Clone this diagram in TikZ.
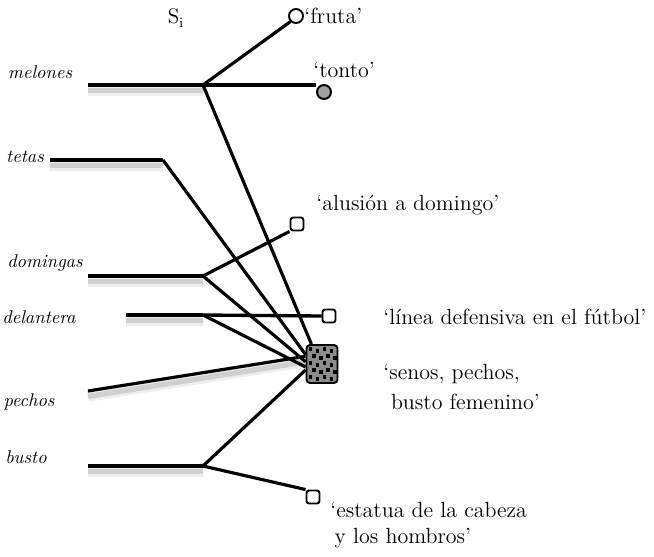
\documentclass[tikz,border=0pt]{standalone}
\usetikzlibrary{positioning}
\definecolor{shadowgray}{gray}{0.55}
\definecolor{dotgray}{gray}{0.55}

% bar with a soft shadow under it
\newcommand{\shadowbar}[3]{%
  \draw[shadowgray, line width=6pt, opacity=0.15] ([yshift=-0.11cm]#1) -- ([yshift=-0.11cm]#2);
  \draw[shadowgray, line width=3pt, opacity=0.3] ([yshift=-0.11cm]#1) -- ([yshift=-0.11cm]#2);
  \draw[#3] (#1) -- (#2);
}

\begin{document}
\begin{tikzpicture}[x=0.02cm, y=-0.02cm,
  bar/.style={line width=2.4pt},
  thinbar/.style={line width=1.9pt},
  link/.style={line width=1.8pt},
  word/.style={font=\itshape\fontsize{10.5}{12}\selectfont},
  gloss/.style={font=\fontsize{12.5}{15}\selectfont, align=left, inner sep=0pt, anchor=west},
  opendot/.style={circle, draw, line width=1.1pt, fill=white, minimum size=0.28cm, inner sep=0pt},
  greydot/.style={circle, draw, line width=1.1pt, fill=gray!75, minimum size=0.28cm, inner sep=0pt},
  sensebox/.style={draw, line width=1.1pt, fill=white, rounded corners=1.5pt, minimum size=0.26cm, inner sep=0pt},
  mainsense/.style={draw, line width=1.1pt, fill=dotgray, rounded corners=2pt, minimum width=0.62cm, minimum height=0.76cm, inner sep=0pt}]
  \useasboundingbox (0,0) rectangle (654,556);

  % words
  \node[font=\fontsize{12}{14}\selectfont] (si) at (176,18) {S$_{\mathrm{i}}$};
  \node[word] (melones) at (40,72) {melones};
  \node[word] (tetas) at (25,157) {tetas};
  \node[word] (domingas) at (45,263) {domingas};
  \node[word] (delantera) at (39,317) {delantera};
  \node[word] (pechos) at (29,402) {pechos};
  \node[word] (busto) at (26,457) {busto};

  \coordinate (m0) at (88,85);
  \coordinate (j1) at (203,85);
  \coordinate (t0) at (50,160);
  \coordinate (t1) at (163,160);
  \coordinate (d0) at (88,276);
  \coordinate (j2) at (203,276);
  \coordinate (l0) at (126,315);
  \coordinate (j3) at (203,315);
  \coordinate (p0) at (88,391);
  \coordinate (b0) at (88,466);
  \coordinate (j4) at (203,466);

  % senses
  \node[opendot] (fruta) at (296,16) {};
  \node[gloss] (frutatxt) at (304,16) {‘fruta’};
  \node[greydot] (tonto) at (324,92) {};
  \node[gloss] (tontotxt) at (313,70) {‘tonto’};
  \node[sensebox] (alusion) at (297,224) {};
  \node[gloss] (alusiontxt) at (316,205) {‘alusión a domingo’};
  \node[sensebox] (linea) at (329,316) {};
  \node[gloss] (lineatxt) at (383,317) {‘línea defensiva en el fútbol’};
  \node[mainsense] (senos) at (322,364) {};
  \node[gloss, font=\fontsize{12.5}{17}\selectfont] (senostxt) at (383,387) {‘senos, pechos,\\\hspace{0.35em}busto femenino’};
  \node[sensebox] (estatua) at (313,497) {};
  \node[gloss, font=\fontsize{12.5}{15}\selectfont] (estatuatxt) at (330,525) {‘estatua de la cabeza\\\hspace{0.2em}y los hombros’};

  % dots on the main sense
  \foreach \i in {0,...,3}
    \foreach \j in {0,...,4}{
      \pgfmathsetmacro{\dx}{3+\i*7+mod(\j,2)*3.5}
      \pgfmathsetmacro{\dy}{3+\j*7+mod(\i,2)*2}
      \fill ([shift={(\dx,\dy)}]senos.north west) rectangle +(3.5,3.5);
    }

  % bars
  \shadowbar{m0}{j1}{bar}
  \shadowbar{t0}{t1}{bar}
  \shadowbar{d0}{j2}{bar}
  \shadowbar{l0}{j3}{thinbar}
  \shadowbar{b0}{j4}{bar}
  \shadowbar{p0}{senos.155}{link}

  % connectors
  \draw[link] (j1) -- (fruta.225);
  \draw[link] (j1) -- (tonto.west |- j1);
  \draw[link] (j1) -- (senos.118);
  \draw[link] (t1) -- (senos.150);
  \draw[link] (j2) -- (alusion.south west);
  \draw[link] (j2) -- (senos.172);
  \draw[thinbar] (j3) -- (linea.west);
  \draw[link] (j3) -- (senos.190);
  \draw[link] (j4) -- (senos.200);
  \draw[link] (j4) -- (estatua.north west);
\end{tikzpicture}
\end{document}
